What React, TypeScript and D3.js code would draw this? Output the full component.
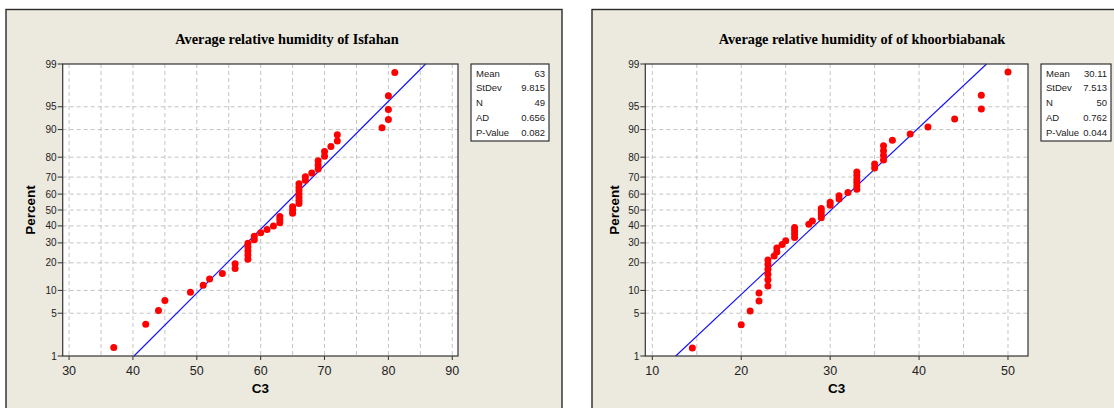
import * as d3 from "d3";

const isfahanValues = [37, 42, 44, 45, 49, 51, 52, 54, 56, 56, 58, 58, 58, 58, 58, 59, 59, 60, 61, 62, 63, 63, 63, 65, 65, 65, 66, 66, 66, 66, 66, 66, 66, 67, 67, 68, 69, 69, 69, 70, 70, 71, 72, 72, 79, 80, 80, 80, 81];
const khoorValues = [14.5, 20, 21, 22, 22, 23, 23, 23, 23, 23, 23, 23.7, 24, 24, 24.6, 25, 26, 26, 26, 26, 27.6, 28, 29, 29, 29, 29, 30, 30, 31, 31, 32, 33, 33, 33, 33, 33, 33, 35, 35, 36, 36, 36, 36, 37, 39, 41, 44, 47, 47, 50];

const statLabels = ["Mean", "StDev", "N", "AD", "P-Value"];
const isfahanStats = [63, 9.815, 49, 0.656, 0.082];
const khoorStats = [30.11, 7.513, 50, 0.762, 0.044];

const percentTicks = [1, 5, 10, 20, 30, 40, 50, 60, 70, 80, 90, 95, 99];
const isfahanXTicks = [30, 40, 50, 60, 70, 80, 90];
const isfahanGrid = [30, 35, 40, 45, 50, 55, 60, 65, 70, 75, 80, 85, 90];
const khoorXTicks = [10, 20, 30, 40, 50];
const khoorGrid = [10, 15, 20, 25, 30, 35, 40, 45, 50];

// inverse normal cdf (Acklam)
function normInv(p: number): number {
  const a = [-39.69683028665376, 220.9460984245205, -275.9285104469687, 138.357751867269, -30.66479806614716, 2.506628277459239];
  const b = [-54.47609879822406, 161.5858368580409, -155.6989798598866, 66.80131188771972, -13.28068155288572];
  const c = [-0.007784894002430293, -0.3223964580411365, -2.400758277161838, -2.549732539343734, 4.374664141464968, 2.938163982698783];
  const d = [0.007784695709041462, 0.3224671290700398, 2.445134137142996, 3.754408661907416];
  const pl = 0.02425;
  if (p < pl) {
    const q = Math.sqrt(-2 * Math.log(p));
    return (((((c[0] * q + c[1]) * q + c[2]) * q + c[3]) * q + c[4]) * q + c[5]) / ((((d[0] * q + d[1]) * q + d[2]) * q + d[3]) * q + 1);
  }
  if (p > 1 - pl) {
    const q = Math.sqrt(-2 * Math.log(1 - p));
    return -(((((c[0] * q + c[1]) * q + c[2]) * q + c[3]) * q + c[4]) * q + c[5]) / ((((d[0] * q + d[1]) * q + d[2]) * q + d[3]) * q + 1);
  }
  const q = p - 0.5;
  const r = q * q;
  return ((((((a[0] * r + a[1]) * r + a[2]) * r + a[3]) * r + a[4]) * r + a[5]) * q) / (((((b[0] * r + b[1]) * r + b[2]) * r + b[3]) * r + b[4]) * r + 1);
}

const TOP = 64;
const BOTTOM = 356;
const sans = "'Liberation Sans', Arial, sans-serif";

interface PanelProps {
  panelX: number;
  panelW: number;
  title: string;
  titleX: number;
  percentX: number;
  left: number;
  right: number;
  xDomain: [number, number];
  xTicks: number[];
  grid: number[];
  values: number[];
  stats: number[];
  legendX: number;
  legendW: number;
}

function ProbPlot(p: PanelProps) {
  const x = d3.scaleLinear().domain(p.xDomain).range([p.left, p.right]);
  const z = d3.scaleLinear().domain([normInv(0.01), normInv(0.99)]).range([BOTTOM, TOP]);
  const y = (pct: number) => z(normInv(pct / 100));
  const n = p.values.length;
  const mean = p.stats[0];
  const sd = p.stats[1];
  const line = d3.line<number>()
    .x((pct) => x(mean + normInv(pct / 100) * sd))
    .y((pct) => y(pct));

  return (
    <g>
      <rect x={p.panelX} y={9.5} width={p.panelW} height={430} fill="#ece9df" stroke="#2a2a2a" strokeWidth={1.4} />
      <text x={p.titleX} y={44} textAnchor="middle" fontFamily="'Liberation Serif', 'Times New Roman', serif" fontWeight="bold" fontSize={14.3}>
        {p.title}
      </text>
      <rect x={p.left} y={TOP} width={p.right - p.left} height={BOTTOM - TOP} fill="#fff" />
      {p.grid.map((g) => (
        <line key={"vx" + g} x1={x(g)} x2={x(g)} y1={TOP} y2={BOTTOM} stroke="#c4c4c4" strokeDasharray="4,3" />
      ))}
      {percentTicks.slice(1, -1).map((t) => (
        <line key={"hy" + t} x1={p.left} x2={p.right} y1={y(t)} y2={y(t)} stroke="#c4c4c4" strokeDasharray="4,3" />
      ))}
      <path d={line([1, 99]) ?? ""} fill="none" stroke="#1010ff" strokeWidth={1.1} />
      {p.values.map((v, i) => (
        <circle key={i} cx={x(v)} cy={y(((i + 1 - 0.3) / (n + 0.4)) * 100)} r={3.5} fill="#ff0000" />
      ))}
      <rect x={p.left} y={TOP} width={p.right - p.left} height={BOTTOM - TOP} fill="none" stroke="#333" strokeWidth={1.2} />
      {percentTicks.map((t) => (
        <g key={"yt" + t}>
          <line x1={p.left - 5} x2={p.left} y1={y(t)} y2={y(t)} stroke="#333" />
          <text x={p.left - 6} y={y(t) + 3.5} textAnchor="end" fontFamily={sans} fontSize={10} fill="#222">{t}</text>
        </g>
      ))}
      {p.xTicks.map((t) => (
        <g key={"xt" + t}>
          <line x1={x(t)} x2={x(t)} y1={BOTTOM} y2={BOTTOM + 4} stroke="#333" />
          <text x={x(t)} y={375} textAnchor="middle" fontFamily={sans} fontSize={12.5} fill="#222">{t}</text>
        </g>
      ))}
      <text x={(p.left + p.right) / 2} y={393} textAnchor="middle" fontFamily={sans} fontWeight="bold" fontSize={13.5}>C3</text>
      <text transform={`translate(${p.percentX},${(TOP + BOTTOM) / 2}) rotate(-90)`} textAnchor="middle" fontFamily={sans} fontWeight="bold" fontSize={13.5}>
        Percent
      </text>
      <rect x={p.legendX} y={64} width={p.legendW} height={77} fill="#fff" stroke="#333" strokeWidth={1.2} />
      {statLabels.map((lab, i) => (
        <g key={lab}>
          <text x={p.legendX + 5} y={76.5 + i * 14.8} fontFamily={sans} fontSize={9.5} fill="#222">{lab}</text>
          <text x={p.legendX + p.legendW - 4} y={76.5 + i * 14.8} textAnchor="end" fontFamily={sans} fontSize={9.5} fill="#222">{String(p.stats[i])}</text>
        </g>
      ))}
    </g>
  );
}

export default function App() {
  return (
    <svg width={1114} height={408} style={{ position: "absolute", left: 0, top: 0, background: "#fff" }}>
      <ProbPlot
        panelX={6}
        panelW={556}
        title="Average relative humidity of Isfahan"
        titleX={287}
        percentX={35}
        left={62.7}
        right={458}
        xDomain={[29.0, 90.9]}
        xTicks={isfahanXTicks}
        grid={isfahanGrid}
        values={isfahanValues}
        stats={isfahanStats}
        legendX={471}
        legendW={78}
      />
      <ProbPlot
        panelX={592}
        panelW={540}
        title="Average relative humidity of of khoorbiabanak"
        titleX={862}
        percentX={619}
        left={645.3}
        right={1028}
        xDomain={[9.21, 52.25]}
        xTicks={khoorXTicks}
        grid={khoorGrid}
        values={khoorValues}
        stats={khoorStats}
        legendX={1041}
        legendW={70}
      />
    </svg>
  );
}
